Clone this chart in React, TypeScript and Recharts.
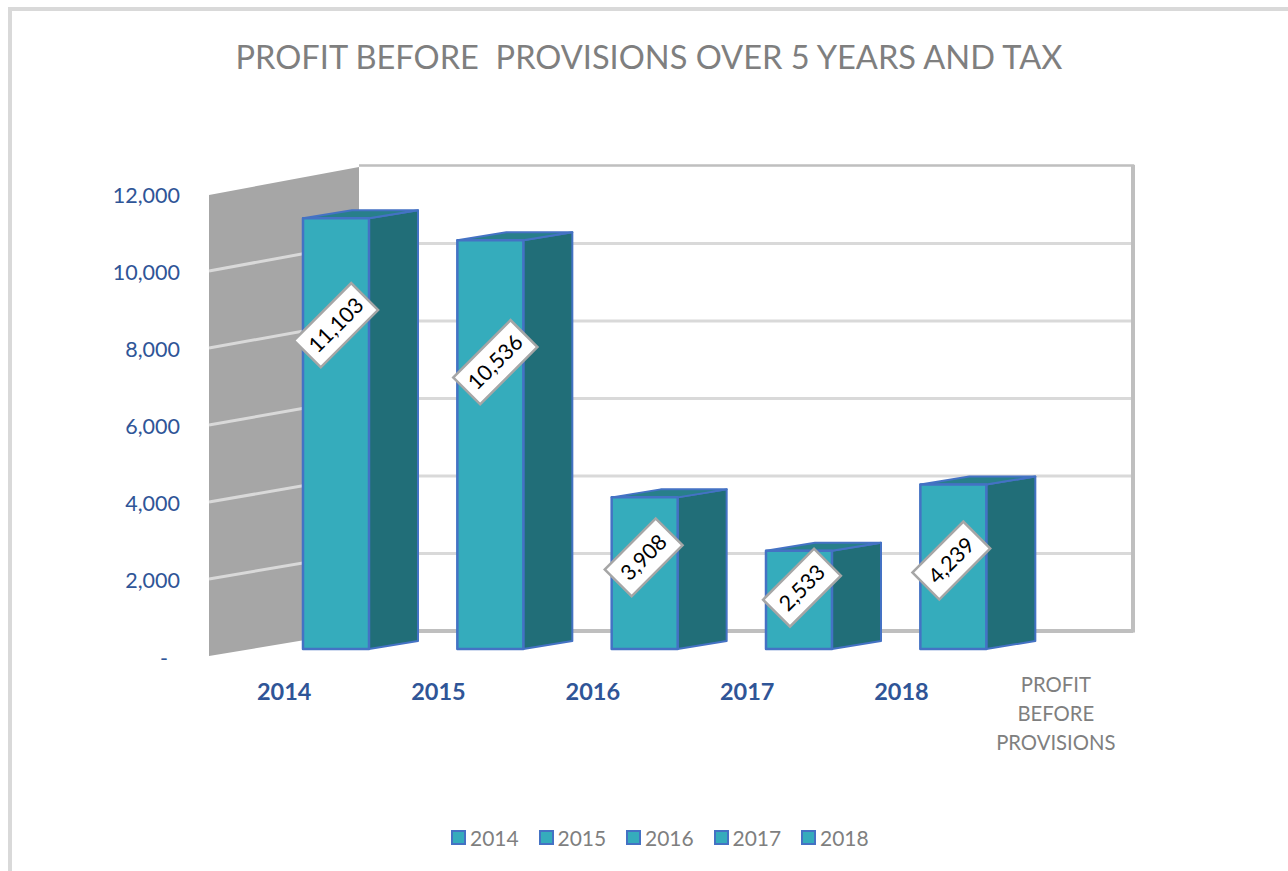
import { Bar, BarChart, LabelList, Legend, XAxis, YAxis } from 'recharts';

const categories = ['2014', '2015', '2016', '2017', '2018', 'PROFIT BEFORE PROVISIONS'];
const profitValues = [11103, 10536, 3908, 2533, 4239, null];
const yTicks = [0, 2000, 4000, 6000, 8000, 10000, 12000];
const legendYears = ['2014', '2015', '2016', '2017', '2018'];

const chartData = categories.map((name, i) => ({ name, profit: profitValues[i] }));

// label centre relative to the top middle of each front face
const labelNudge = [
  [0, 107],
  [5, 122],
  [-1, 60],
  [3, 37],
  [-2, 76],
];

const BLUE_TEXT = '#2f5597';
const GREY_TEXT = '#7f7f7f';
const FONT = 'Lato, sans-serif';

const DEPTH_X = 49;
const DEPTH_Y = 8;

// 3D floor and walls sit behind the bars
const Walls = () => {
  const frontY = (v: number) => 656 - (v / 12000) * 462;
  const backY = (v: number) => 631 - (v / 12000) * 465;
  return (
    <g>
      <rect x={359} y={166} width={773} height={465} fill="#fff" />
      {yTicks.slice(1, -1).map((v) => (
        <line key={v} x1={360} x2={1132} y1={backY(v)} y2={backY(v)} stroke="#d9d9d9" strokeWidth={3} />
      ))}
      <path d="M359 165.5H1133V631H359" fill="none" stroke="#bfbfbf" strokeWidth={2.5} />
      <path d="M1133 165V632.5" fill="none" stroke="#bfbfbf" strokeWidth={4} />
      <path d="M359 631H1133" fill="none" stroke="#bfbfbf" strokeWidth={4} />
      <polygon points="209,195 359,167 359,631 209,656" fill="#a6a6a6" />
      {yTicks.slice(1, -1).map((v) => (
        <line key={v} x1={209} x2={359} y1={frontY(v)} y2={backY(v)} stroke="#d9d9d9" strokeWidth={3} />
      ))}
    </g>
  );
};

const Cuboid = (props: any) => {
  const { x, y, width, height, value } = props;
  if (value == null || !height) return null;
  const left = x + 52;
  const right = left + width;
  const top = y - 7;
  const base = y + height - 7;
  return (
    <g stroke="#4472c4" strokeLinejoin="round">
      <polygon
        points={`${right},${top} ${right + DEPTH_X},${top - DEPTH_Y} ${right + DEPTH_X},${base - DEPTH_Y} ${right},${base}`}
        fill="#216e78"
        strokeWidth={2}
      />
      <polygon
        points={`${left},${top} ${left + DEPTH_X},${top - DEPTH_Y} ${right + DEPTH_X},${top - DEPTH_Y} ${right},${top}`}
        fill="#287f8b"
        strokeWidth={2}
      />
      <rect x={left} y={top} width={width} height={height} fill="#35acbc" strokeWidth={2.5} />
    </g>
  );
};

const DiamondLabel = (props: any) => {
  const { x, y, width, value, index } = props;
  if (value == null) return null;
  const nudge = labelNudge[index];
  const cx = x + 52 + width / 2 + nudge[0];
  const cy = y - 7 + nudge[1];
  const w = value >= 10000 ? 81 : 72;
  return (
    <g transform={`rotate(-45 ${cx} ${cy})`}>
      <rect x={cx - w / 2} y={cy - 19} width={w} height={38} fill="#fff" stroke="#a6a6a6" strokeWidth={2.5} />
      <text x={cx} y={cy} dy="0.35em" textAnchor="middle" fontFamily={FONT} fontSize={21.5} fill="#000">
        {value.toLocaleString('en-US')}
      </text>
    </g>
  );
};

const YTick = ({ x, y, payload }: any) => (
  <text
    x={payload.value === 0 ? x - 12 : x}
    y={payload.value === 0 ? y + 2 : y + 1}
    dy="0.35em"
    textAnchor="end"
    fontFamily={FONT}
    fontSize={21.5}
    fill={BLUE_TEXT}
  >
    {payload.value === 0 ? '-' : payload.value.toLocaleString('en-US')}
  </text>
);

const XTick = ({ x, payload }: any) => {
  if (payload.value === 'PROFIT BEFORE PROVISIONS') {
    return (
      <text x={x} textAnchor="middle" fontFamily={FONT} fontSize={20.3} fill={GREY_TEXT}>
        <tspan x={x} y={692}>PROFIT</tspan>
        <tspan x={x} y={721}>BEFORE</tspan>
        <tspan x={x} y={750}>PROVISIONS</tspan>
      </text>
    );
  }
  return (
    <text x={x} y={700} textAnchor="middle" fontFamily={FONT} fontSize={23.5} fontWeight={700} fill={BLUE_TEXT}>
      {payload.value}
    </text>
  );
};

const YearLegend = () => (
  <div style={{ display: 'flex', justifyContent: 'flex-start', paddingLeft: 451, fontFamily: FONT, fontSize: 21, color: GREY_TEXT }}>
    {legendYears.map((year) => (
      <div key={year} style={{ display: 'flex', alignItems: 'center', width: 87.5, height: 28 }}>
        <span
          style={{
            display: 'inline-block',
            boxSizing: 'border-box',
            width: 15,
            height: 15,
            marginRight: 4,
            background: '#35acbc',
            border: '2px solid #4472c4',
          }}
        />
        {year}
      </div>
    ))}
  </div>
);

export default function App() {
  return (
    <div style={{ position: 'absolute', left: 0, top: 0, width: 1288, height: 871, overflow: 'hidden', background: '#fff' }}>
      <div
        style={{
          position: 'absolute',
          left: 8,
          top: 7,
          right: -10,
          bottom: -10,
          borderLeft: '4px solid #d9d9d9',
          borderTop: '4px solid #d9d9d9',
        }}
      />
      <div
        style={{
          position: 'absolute',
          left: 0,
          top: 36,
          width: 1298,
          textAlign: 'center',
          whiteSpace: 'pre',
          fontFamily: FONT,
          fontSize: 32.6,
          lineHeight: '42px',
          color: GREY_TEXT,
        }}
      >
        PROFIT BEFORE  PROVISIONS OVER 5 YEARS AND TAX
      </div>
      <div style={{ position: 'absolute', left: 0, top: 0 }}>
        <BarChart
          width={1288}
          height={871}
          data={chartData}
          margin={{ top: 194, right: 155, bottom: 185, left: 127 }}
          barSize={66}
        >
          <Walls />
          <XAxis dataKey="name" interval={0} axisLine={false} tickLine={false} tick={<XTick />} />
          <YAxis
            width={80}
            domain={[0, 12000]}
            allowDataOverflow
            ticks={yTicks}
            interval={0}
            axisLine={false}
            tickLine={false}
            tickMargin={21}
            tick={<YTick />}
          />
          <YAxis yAxisId="bars" hide domain={[0, 11907]} />
          <Legend
            layout="horizontal"
            verticalAlign="middle"
            content={<YearLegend />}
            wrapperStyle={{ position: 'absolute', top: 823, left: 0, width: 1288 }}
          />
          <Bar dataKey="profit" yAxisId="bars" shape={<Cuboid />} isAnimationActive={false}>
            <LabelList dataKey="profit" content={<DiamondLabel />} />
          </Bar>
        </BarChart>
      </div>
    </div>
  );
}
